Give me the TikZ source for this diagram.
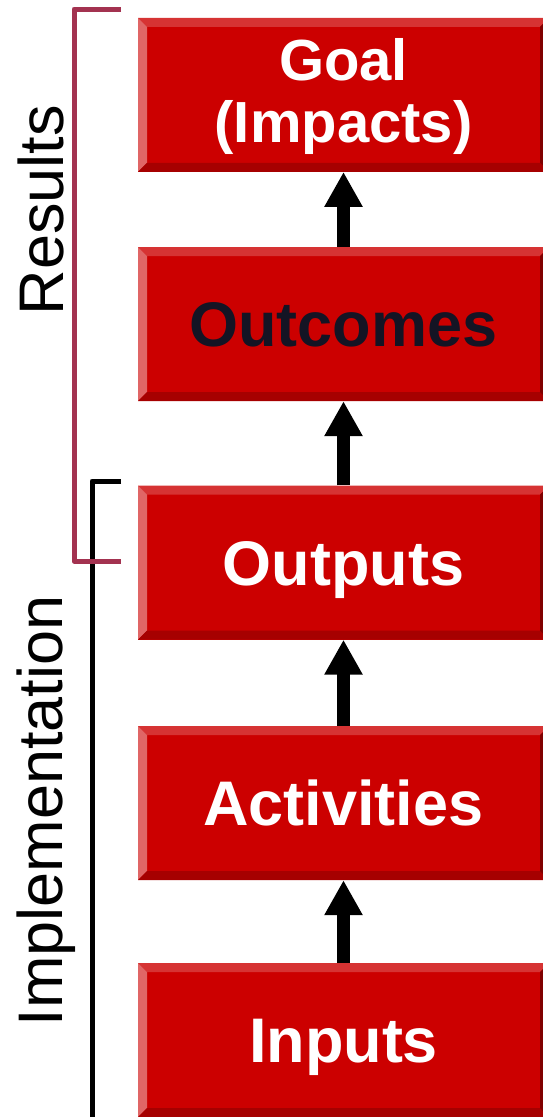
\documentclass[tikz,border=0pt]{standalone}
\usepackage{fontspec}
\setmainfont{Liberation Sans}
\usepackage{tikz}
\usetikzlibrary{arrows.meta}
\usetikzlibrary{positioning}

\definecolor{boxred}{RGB}{204,0,0}
\definecolor{bevtop}{RGB}{214,51,51}
\definecolor{bevleft}{RGB}{224,102,102}
\definecolor{bevbottom}{RGB}{166,0,0}
\definecolor{bevright}{RGB}{128,0,0}
\definecolor{darktext}{RGB}{20,20,36}
\definecolor{resultcol}{RGB}{163,50,80}

\tikzset{
    stage/.style={rectangle, fill=boxred, inner sep=0pt,
        minimum width=411pt, minimum height=154pt,
        text=white, align=center,
        font=\bfseries\fontsize{63}{70}\selectfont,
        path picture={
            \fill[bevtop] (path picture bounding box.north west) -- (path picture bounding box.north east)
                -- ([shift={(-9pt,-9pt)}]path picture bounding box.north east) -- ([shift={(9pt,-9pt)}]path picture bounding box.north west) -- cycle;
            \fill[bevleft] (path picture bounding box.north west) -- (path picture bounding box.south west)
                -- ([shift={(9pt,9pt)}]path picture bounding box.south west) -- ([shift={(9pt,-9pt)}]path picture bounding box.north west) -- cycle;
            \fill[bevbottom] (path picture bounding box.south west) -- (path picture bounding box.south east)
                -- ([shift={(-9pt,9pt)}]path picture bounding box.south east) -- ([shift={(9pt,9pt)}]path picture bounding box.south west) -- cycle;
            \fill[bevright] (path picture bounding box.north east) -- (path picture bounding box.south east)
                -- ([shift={(-9pt,9pt)}]path picture bounding box.south east) -- ([shift={(-9pt,-9pt)}]path picture bounding box.north east) -- cycle;
        }},
    oneline/.style={text height=45pt, text depth=0pt},
    flow/.style={line width=13pt, -{Triangle[width=36pt,length=35pt]}},
    side/.style={rotate=90, anchor=base, font=\fontsize{63}{70}\selectfont},
    brace/.style={line width=5pt, line join=round}
}

\begin{document}
\begin{tikzpicture}[x=1pt, y=-1pt]
    \clip (0,0) rectangle (543,1117);

    % the five stages
    \node[stage, font=\bfseries\fontsize{58}{65}\selectfont] (goal) at (343.5,94.75) {\raisebox{-3pt}{\strut Goal}\\(Impacts)};
    \node[stage, oneline, text=darktext] (outcomes) at (343.5,324) {Outcomes};
    \node[stage, oneline] (outputs) at (343.5,562.5) {Outputs};
    \node[stage, oneline] (activities) at (343.5,803) {Activities};
    \node[stage, oneline] (inputs) at (343.5,1040) {Inputs};

    \draw[flow] (inputs) -- (activities);
    \draw[flow] (activities) -- (outputs);
    \draw[flow] (outputs) -- (outcomes);
    \draw[flow] (outcomes) -- (goal);

    % brackets on the left
    \coordinate (impltop) at (121,481);
    \coordinate (implbot) at (92,1125);
    \draw[brace, black] (impltop) -- (92,481) -- (implbot);

    \coordinate (restop) at (121,9);
    \coordinate (resbot) at (121,561);
    \draw[brace, resultcol] (restop) -- (74,9) -- (74,561) -- (resbot);

    \node[side] (results) at (63,210) {Results};
    \node[side] (impl) at (62,811) {Implementation};
\end{tikzpicture}
\end{document}
